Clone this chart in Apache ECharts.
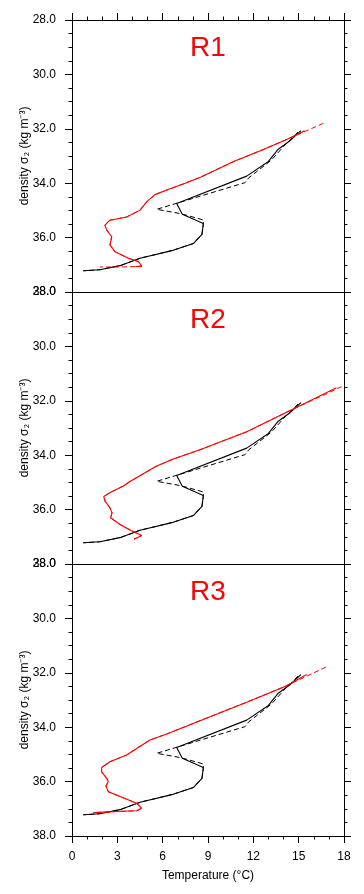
<!DOCTYPE html>
<html><head><meta charset="utf-8">
<script src="https://cdn.jsdelivr.net/npm/echarts@6/dist/echarts.min.js"></script>
<style>html,body{margin:0;padding:0;background:#fff}#c{width:364px;height:894px}</style>
</head><body><div id="c"></div>
<script>
// ---- data ----
const panelNames = ['R1', 'R2', 'R3'];
const xTickValues = [0, 3, 6, 9, 12, 15, 18];
const yTickValues = [28, 30, 32, 34, 36, 38];

// observations (black), same in every panel
const obsSolidTemp = [15.15, 14.4, 13.65, 13.0, 11.56, 6.93, 7.3, 8.69, 8.6, 8.03, 6.6, 4.5, 3.25, 1.85, 0.75];
const obsSolidDens = [32.07, 32.45, 32.75, 33.2, 33.74, 34.75, 35.14, 35.48, 35.88, 36.22, 36.48, 36.76, 37.02, 37.18, 37.22];
const obsDashTemp = [14.95, 14.0, 13.2, 11.7, 11.45, 5.6, 7.2, 8.69, 8.69, 8.6, 8.03, 6.6, 4.5, 3.25, 1.85, 0.75];
const obsDashDens = [32.12, 32.65, 33.15, 33.8, 33.98, 34.96, 35.12, 35.35, 35.55, 35.88, 36.22, 36.48, 36.76, 37.02, 37.18, 37.22];

// R1 model (red)
const r1SolidTemp = [15.4, 14.1, 12.5, 10.7, 8.5, 7.4, 6.27, 5.5, 5.0, 4.5, 3.62, 2.51, 2.18, 2.3, 2.63, 2.51, 2.85, 3.73, 4.39, 4.61, 4.2];
const r1SolidDens = [32.07, 32.42, 32.8, 33.2, 33.78, 34.02, 34.25, 34.42, 34.65, 34.99, 35.24, 35.36, 35.54, 35.72, 35.97, 36.27, 36.52, 36.76, 36.88, 37.04, 37.07];
const r1DashTemp = [16.63, 14.1, 12.5, 10.7, 8.5, 7.4, 6.27, 5.5, 5.0, 4.5, 3.62, 2.51, 2.18, 2.3, 2.63, 2.51, 2.85, 3.73, 4.39, 4.61, 3.2, 1.85];
const r1DashDens = [31.8, 32.42, 32.8, 33.2, 33.78, 34.02, 34.25, 34.42, 34.65, 34.99, 35.24, 35.36, 35.54, 35.72, 35.97, 36.27, 36.52, 36.76, 36.88, 37.06, 37.08, 37.08];

// R2 model (red)
const r2SolidTemp = [17.5, 14.2, 11.56, 8.47, 6.7, 5.6, 4.6, 3.84, 3.4, 2.5, 2.1, 2.2, 2.5, 2.65, 2.55, 3.18, 3.9, 4.61, 4.1];
const r2SolidDens = [31.52, 32.42, 33.14, 33.8, 34.14, 34.4, 34.72, 34.97, 35.13, 35.38, 35.52, 35.7, 35.92, 36.12, 36.3, 36.55, 36.77, 36.95, 37.09];
const r2DashTemp = [17.85, 14.2, 11.56, 8.47, 6.7, 5.6, 4.6, 3.84, 3.4, 2.5, 2.1, 2.2, 2.5, 2.65, 2.55, 3.18, 3.9, 4.61, 4.1];
const r2DashDens = [31.48, 32.42, 33.14, 33.8, 34.14, 34.4, 34.72, 34.97, 35.13, 35.38, 35.52, 35.7, 35.92, 36.12, 36.3, 36.55, 36.77, 36.95, 37.09];

// R3 model (red)
const r3SolidTemp = [15.53, 14.1, 11.56, 8.47, 6.27, 5.16, 4.28, 3.62, 2.51, 1.96, 1.96, 2.3, 2.4, 2.25, 2.4, 3.18, 4.28, 4.61, 4.28, 2.96, 1.41];
const r3SolidDens = [32.06, 32.5, 33.08, 33.76, 34.25, 34.47, 34.78, 35.02, 35.27, 35.48, 35.64, 35.88, 36.0, 36.16, 36.37, 36.55, 36.8, 36.98, 37.07, 37.1, 37.14];
const r3DashTemp = [16.8, 14.1, 11.56, 8.47, 6.27, 5.16, 4.28, 3.62, 2.51, 1.96, 1.96, 2.3, 2.4, 2.25, 2.4, 3.18, 4.28, 4.61, 4.28, 2.96, 1.41];
const r3DashDens = [31.79, 32.5, 33.08, 33.76, 34.25, 34.47, 34.78, 35.02, 35.27, 35.48, 35.64, 35.88, 36.0, 36.16, 36.37, 36.55, 36.8, 36.98, 37.07, 37.1, 37.14];

const modelSolid = [[r1SolidTemp, r1SolidDens], [r2SolidTemp, r2SolidDens], [r3SolidTemp, r3SolidDens]];
const modelDash = [[r1DashTemp, r1DashDens], [r2DashTemp, r2DashDens], [r3DashTemp, r3DashDens]];

// ---- chart ----
const FONT = 'Liberation Sans, Arial, Helvetica, sans-serif';
const zip = (a, b) => a.map((v, i) => [v, b[i]]);
const chart = echarts.init(document.getElementById('c'), null, {renderer: 'canvas'});

const PLOT_LEFT = 72, PLOT_W = 272, PANEL_H = 272, TOP0 = 20;
const grids = [], xAxes = [], yAxes = [], series = [], graphics = [];
const axLine = {show: true, onZero: false, lineStyle: {color: '#000', width: 1}};
const xMin = xTickValues[0], xMax = xTickValues[xTickValues.length - 1];
const yMin = yTickValues[0], yMax = yTickValues[yTickValues.length - 1];

panelNames.forEach((name, i) => {
  const top = TOP0 + i * PANEL_H;
  grids.push({left: PLOT_LEFT, top: top, width: PLOT_W, height: PANEL_H, containLabel: false});
  const last = i === panelNames.length - 1;
  const first = i === 0;
  // bottom x axis
  xAxes.push({
    gridIndex: i, type: 'value', position: 'bottom', min: xMin, max: xMax, interval: 3,
    axisLine: axLine,
    axisTick: {show: last, inside: false, length: 7, lineStyle: {color: '#000', width: 1}},
    minorTick: {show: last, splitNumber: 3, length: 3.5, lineStyle: {color: '#000', width: 1}},
    axisLabel: {show: last, margin: 15, color: '#000', fontSize: 12, fontFamily: FONT},
    splitLine: {show: false}, minorSplitLine: {show: false},
    name: last ? 'Temperature (°C)' : '', nameLocation: 'middle', nameGap: 34,
    nameMoveOverlap: false,
    nameTextStyle: {color: '#000', fontSize: 12, fontFamily: FONT}
  });
  // top x axis
  xAxes.push({
    gridIndex: i, type: 'value', position: 'top', min: xMin, max: xMax, interval: 3,
    axisLine: axLine,
    axisTick: {show: first, inside: false, length: 7, lineStyle: {color: '#000', width: 1}},
    minorTick: {show: first, splitNumber: 3, length: 3.5, lineStyle: {color: '#000', width: 1}},
    axisLabel: {show: false}, splitLine: {show: false}
  });
  // left y axis
  yAxes.push({
    gridIndex: i, type: 'value', position: 'left', inverse: true, min: yMin, max: yMax, interval: 2,
    axisLine: axLine,
    axisTick: {show: true, inside: false, length: 7, lineStyle: {color: '#000', width: 1}},
    minorTick: {show: true, splitNumber: 4, length: 3.5, lineStyle: {color: '#000', width: 1}},
    axisLabel: {show: true, margin: 16, color: '#000', fontSize: 12, fontFamily: FONT,
      formatter: v => v.toFixed(1), showMinLabel: true, showMaxLabel: true},
    splitLine: {show: false}, minorSplitLine: {show: false},
    name: 'density σ₂ (kg m⁻³)', nameLocation: 'middle', nameGap: 41, nameRotate: 90,
    nameMoveOverlap: false,
    nameTextStyle: {color: '#000', fontSize: 12, fontFamily: FONT}
  });
  // right y axis
  yAxes.push({
    gridIndex: i, type: 'value', position: 'right', inverse: true, min: yMin, max: yMax, interval: 2,
    axisLine: axLine,
    axisTick: {show: true, inside: false, length: 7, lineStyle: {color: '#000', width: 1}},
    minorTick: {show: true, splitNumber: 4, length: 3.5, lineStyle: {color: '#000', width: 1}},
    axisLabel: {show: false}, splitLine: {show: false}
  });

  const xi = 2 * i, yi = 2 * i;
  const base = {type: 'line', xAxisIndex: xi, yAxisIndex: yi, showSymbol: false, symbol: 'none',
    smooth: false, animation: false, silent: true, z: 3};
  series.push(Object.assign({}, base, {name: name + ' obs', data: zip(obsSolidTemp, obsSolidDens),
    lineStyle: {color: '#000', width: 1.1, type: 'solid'}}));
  series.push(Object.assign({}, base, {name: name + ' obs dash', data: zip(obsDashTemp, obsDashDens),
    lineStyle: {color: '#000', width: 1, type: [5, 3]}}));
  series.push(Object.assign({}, base, {name: name + ' model dash', data: zip(modelDash[i][0], modelDash[i][1]),
    lineStyle: {color: '#ff0000', width: 1, type: [5, 3]}}));
  series.push(Object.assign({}, base, {name: name + ' model', data: zip(modelSolid[i][0], modelSolid[i][1]),
    lineStyle: {color: '#ff0000', width: 1.1, type: 'solid'}}));

  graphics.push({
    type: 'text', x: PLOT_LEFT + PLOT_W / 2, y: top + 28, silent: true,
    style: {text: name, fill: '#ff0000', font: '28px ' + FONT, align: 'center', verticalAlign: 'middle',
      textAlign: 'center', textVerticalAlign: 'middle'}
  });
});

chart.setOption({
  animation: false,
  backgroundColor: '#fff',
  grid: grids, xAxis: xAxes, yAxis: yAxes, series: series, graphic: graphics
});
</script></body></html>
